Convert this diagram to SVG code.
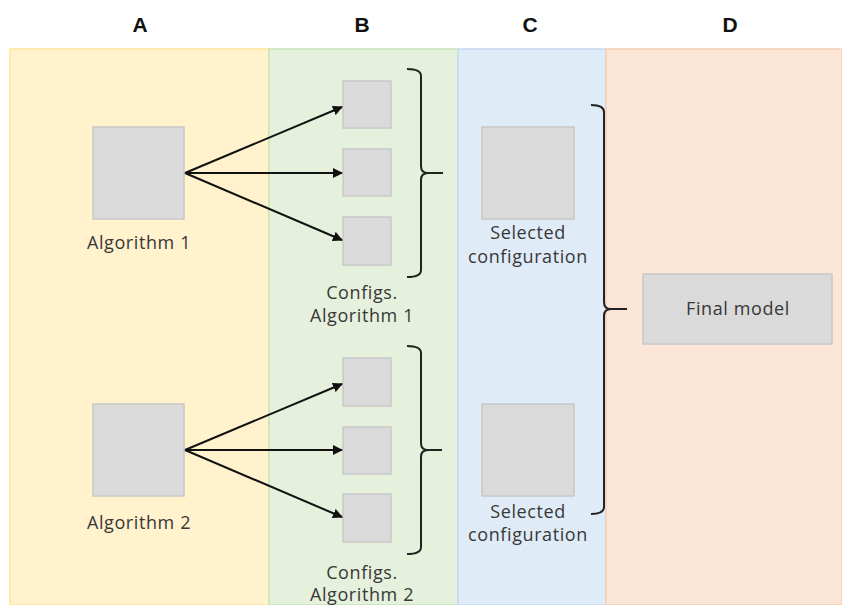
<svg xmlns="http://www.w3.org/2000/svg" width="842" height="605" viewBox="0 0 842 605">
<defs>
<style>
.hdr{font-family:"Liberation Sans",Arial,sans-serif;font-weight:bold;font-size:21px;fill:#111;text-anchor:middle}
.lbl{font-family:"Open Sans",Lato,sans-serif;font-size:18px;letter-spacing:0.6px;fill:#383838;text-anchor:middle}
.box{fill:#dadada;stroke:#c8c8c8;stroke-width:1.5}
.edge{stroke:#111;stroke-width:2;fill:none}
.brace{stroke:#222;stroke-width:2;fill:none}
</style>
<marker id="arr" viewBox="0 0 10 10" refX="9" refY="5" markerWidth="5" markerHeight="5" orient="auto" markerUnits="strokeWidth">
<path d="M0,0 L10,5 L0,10 z" fill="#111"/>
</marker>
</defs>
<rect width="842" height="605" fill="#fff"/>
<g id="columns">
<rect x="10" y="49" width="259" height="556" fill="#fff2cc" stroke="#ffe599" stroke-width="1.5"/>
<rect x="269" y="49" width="189" height="556" fill="#e5f1dc" stroke="#c9e2b8" stroke-width="1.5"/>
<rect x="458" y="49" width="148" height="556" fill="#dfebf7" stroke="#c5daf0" stroke-width="1.5"/>
<rect x="606" y="49" width="236" height="556" fill="#fbe6d8" stroke="#f6cfb4" stroke-width="1.5"/>
<text class="hdr" x="140" y="32">A</text>
<text class="hdr" x="362" y="32">B</text>
<text class="hdr" x="530" y="32">C</text>
<text class="hdr" x="730" y="32">D</text>
</g>
<g id="alg1">
<rect class="box" x="93" y="127" width="91" height="92"/>
<text class="lbl" x="139" y="249">Algorithm 1</text>
</g>
<g id="alg2">
<rect class="box" x="93" y="404" width="91" height="92"/>
<text class="lbl" x="139" y="529">Algorithm 2</text>
</g>
<g id="configs1">
<rect class="box" x="343" y="81" width="48" height="47"/>
<rect class="box" x="343" y="149" width="48" height="47"/>
<rect class="box" x="343" y="217" width="48" height="48"/>
<text class="lbl" x="362" y="299">Configs.</text>
<text class="lbl" x="362" y="322">Algorithm 1</text>
</g>
<g id="configs2">
<rect class="box" x="343" y="358" width="48" height="48"/>
<rect class="box" x="343" y="427" width="48" height="47"/>
<rect class="box" x="343" y="494" width="48" height="48"/>
<text class="lbl" x="362" y="579">Configs.</text>
<text class="lbl" x="362" y="601">Algorithm 2</text>
</g>
<g id="selected1">
<rect class="box" x="482" y="127" width="92" height="92"/>
<text class="lbl" x="528" y="239">Selected</text>
<text class="lbl" x="528" y="263">configuration</text>
</g>
<g id="selected2">
<rect class="box" x="482" y="404" width="92" height="92"/>
<text class="lbl" x="528" y="518">Selected</text>
<text class="lbl" x="528" y="541">configuration</text>
</g>
<g id="final">
<rect class="box" x="643" y="274" width="189" height="70"/>
<text class="lbl" x="738" y="315">Final model</text>
</g>
<g id="connectors">
<line class="edge" x1="185" y1="173" x2="342" y2="107" marker-end="url(#arr)"/>
<line class="edge" x1="185" y1="173" x2="342" y2="173" marker-end="url(#arr)"/>
<line class="edge" x1="185" y1="173" x2="342" y2="240" marker-end="url(#arr)"/>
<line class="edge" x1="185" y1="450" x2="342" y2="384" marker-end="url(#arr)"/>
<line class="edge" x1="185" y1="450" x2="342" y2="450" marker-end="url(#arr)"/>
<line class="edge" x1="185" y1="450" x2="342" y2="517" marker-end="url(#arr)"/>
<path class="brace" d="M407,69 Q421,69 421,76 L421,166 Q421,173 428,173 L443,173 M428,173 Q421,173 421,180 L421,270 Q421,277 407,277"/>
<path class="brace" d="M407,346 Q421,346 421,353 L421,443 Q421,450 428,450 L442,450 M428,450 Q421,450 421,457 L421,547 Q421,554 407,554"/>
<path class="brace" d="M591,105 Q604,105 604,112 L604,302 Q604,309 611,309 L627,309 M611,309 Q604,309 604,316 L604,507 Q604,514 591,514"/>
</g>
</svg>
